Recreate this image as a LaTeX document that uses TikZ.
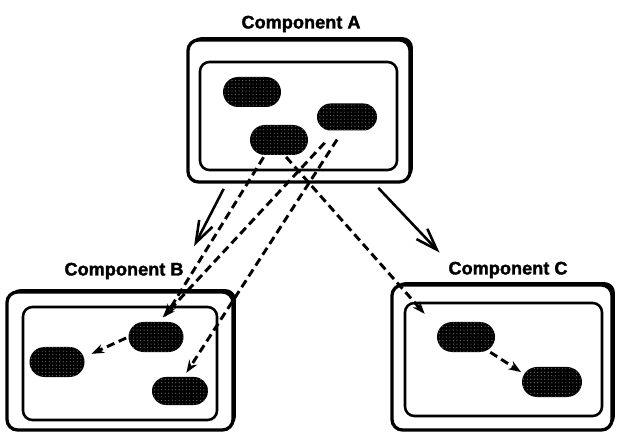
\documentclass[tikz,border=0pt]{standalone}
\usepackage{fontspec}
\setmainfont{Liberation Sans}
\newfontfamily\heavyfont{Liberation Sans Bold}[FakeBold=1.8]
\usepackage{tikz}
\usetikzlibrary{positioning}
\usetikzlibrary{arrows.meta}
\usetikzlibrary{shapes.misc}
\usetikzlibrary{shadows}
\usetikzlibrary{patterns}

\begin{document}
\begin{tikzpicture}[x=0.03cm, y=-0.03cm,
  outerbox/.style={draw, line width=2.8pt, rounded corners=9pt, fill=white, inner sep=0pt,
    drop shadow={shadow xshift=2.5pt, shadow yshift=2.5pt, fill=black, opacity=1}},
  innerbox/.style={draw, line width=2.2pt, rounded corners=8pt, inner sep=0pt},
  capsule/.style={rounded rectangle, fill=black, inner sep=0pt,
    minimum width=1.74cm, minimum height=0.9cm,
    postaction={pattern=dots, pattern color=black!55}},
  complabel/.style={font=\fontsize{15.5}{18}\heavyfont},
  flowarr/.style={line width=2.2pt, -{Straight Barb[length=6.5mm,width=4.5mm,line width=2.2pt]}},
  msgarr/.style={line width=2.5pt, dash pattern=on 7pt off 4pt, -{Stealth[length=3.8mm,width=2.8mm]}}]
\useasboundingbox (0,0) rectangle (617,432);

% component A
\node[complabel] (labA) at (301,24) {Component A};
\node[outerbox, minimum width=6.66cm, minimum height=4.26cm] (compA) at (299,111) {};
\node[innerbox, minimum width=5.91cm, minimum height=3.24cm] (inA) at (298.5,116) {};
\node[capsule] (a1) at (252,92) {};
\node[capsule, minimum width=1.8cm, minimum height=0.81cm] (a2) at (347,117) {};
\node[capsule] (a3) at (279,140) {};

% component B
\node[complabel] (labB) at (124,271) {Component B};
\node[outerbox, minimum width=6.78cm, minimum height=4.14cm] (compB) at (120,361) {};
\node[innerbox, minimum width=5.82cm, minimum height=3.39cm] (inB) at (120,363.5) {};
\node[capsule, minimum width=1.65cm] (b1) at (156,337) {};
\node[capsule, minimum width=1.65cm] (b2) at (57,362) {};
\node[capsule, minimum width=1.68cm, minimum height=0.84cm] (b3) at (180,391) {};

% component C
\node[complabel] (labC) at (508,270) {Component C};
\node[outerbox, minimum width=6.6cm, minimum height=4.35cm] (compC) at (502,357.5) {};
\node[innerbox, minimum width=5.91cm, minimum height=3.39cm] (inC) at (503.5,359.5) {};
\node[capsule] (c1) at (466,337) {};
\node[capsule, minimum width=1.8cm] (c2) at (552,382) {};

% solid arrows
\draw[flowarr, shorten <=5pt, shorten >=12pt] (compA.225) -- (labB.north east);
\draw[flowarr, shorten <=5pt, shorten >=6pt] (compA.316) -- (labC.north west);

% dashed arrows
\draw[msgarr, shorten <=2pt, shorten >=5pt] (a3.227) -- (b1.69);
\draw[msgarr, shorten <=14pt, shorten >=5pt] (a2.231) -- (b1.80);
\draw[msgarr, shorten <=9pt, shorten >=4pt] (a2.253) -- (b3.75);
\draw[msgarr, shorten <=2pt, shorten >=18pt] (a3.290) -- (c1.165);
\draw[msgarr, shorten <=2pt, shorten >=7pt] (b1.west) -- (b2.10);
\draw[msgarr, shorten <=3pt, shorten >=3pt] (c1.328) -- (c2.164);

\end{tikzpicture}
\end{document}
